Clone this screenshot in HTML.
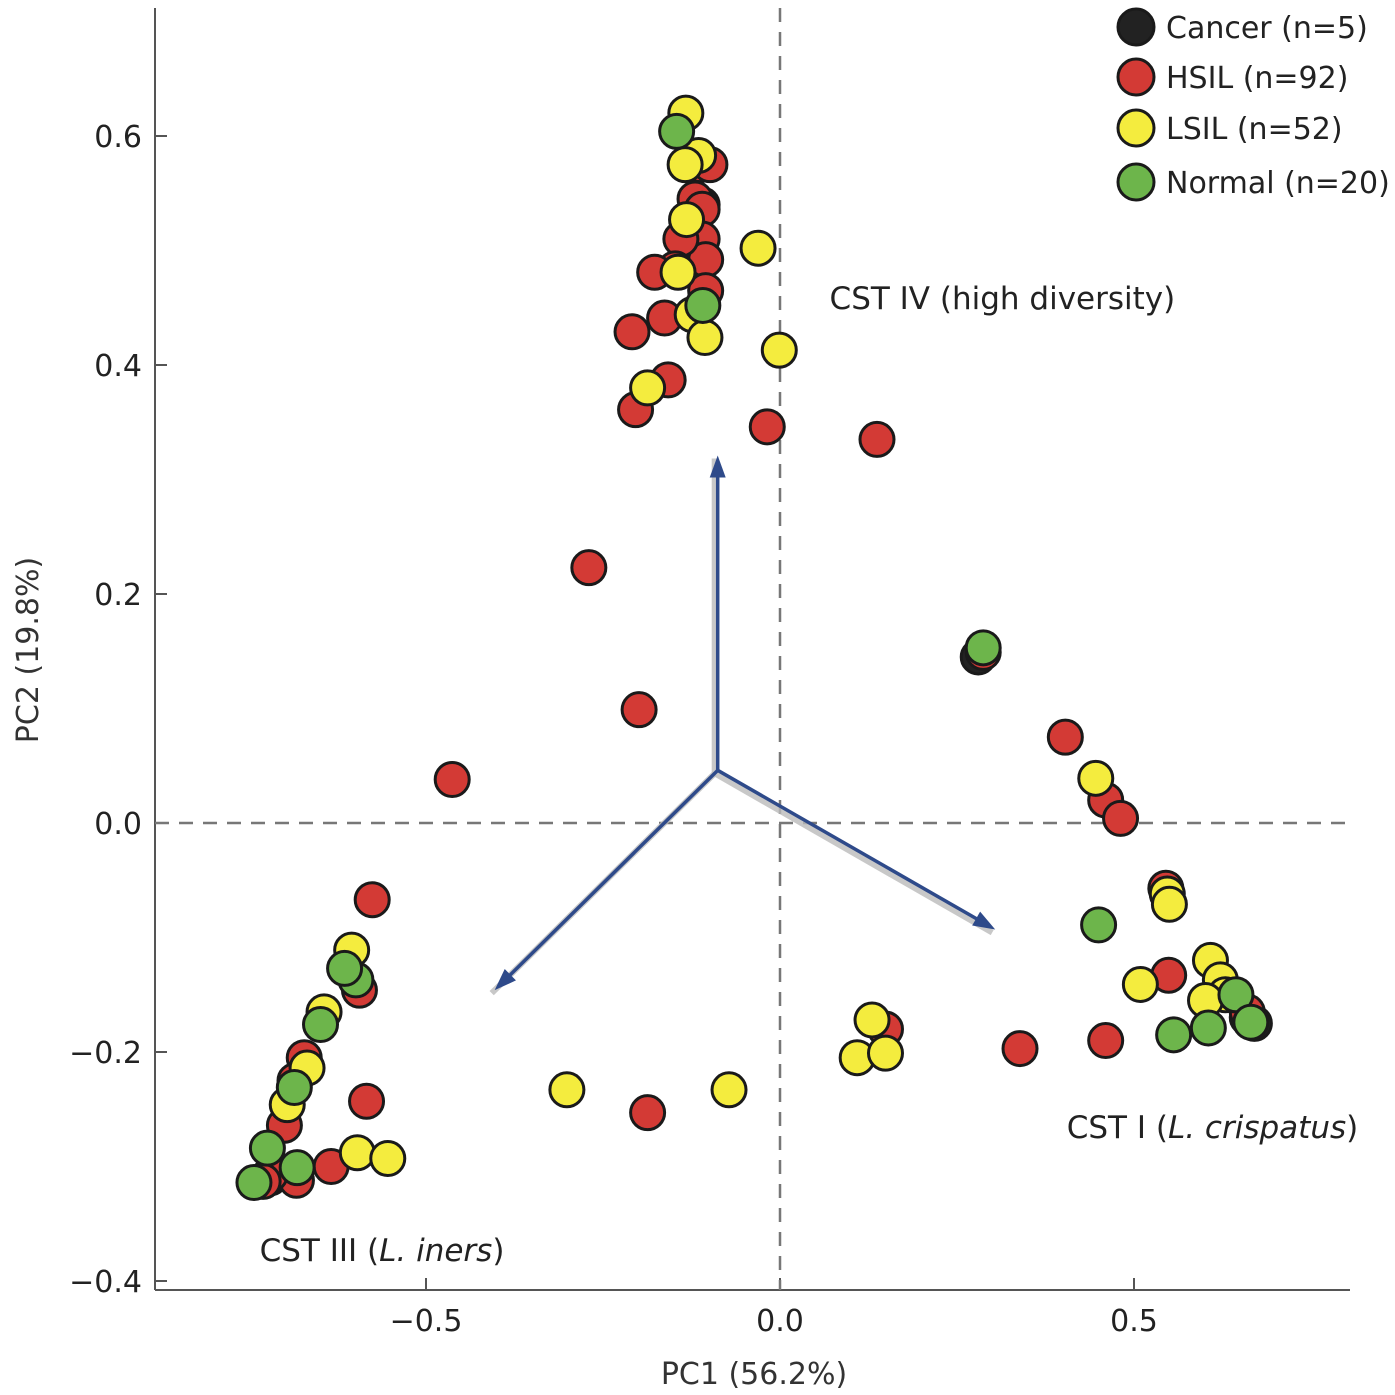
<!DOCTYPE html>
<html><head><meta charset="utf-8"><style>
html,body{margin:0;padding:0;background:#fff;}
svg{display:block;font-family:"DejaVu Sans","Liberation Sans",sans-serif;}
</style></head><body>
<svg id="chart" width="1395" height="1395" viewBox="0 0 1395 1395" xmlns="http://www.w3.org/2000/svg"></svg>
<script>
// ---- data ----
const xTicks = [-0.5, 0.0, 0.5];
const xTickLabels = ["\u22120.5", "0.0", "0.5"];
const yTicks = [0.6, 0.4, 0.2, 0.0, -0.2, -0.4];
const yTickLabels = ["0.6", "0.4", "0.2", "0.0", "\u22120.2", "\u22120.4"];
const groupNames = ["Cancer (n=5)", "HSIL (n=92)", "LSIL (n=52)", "Normal (n=20)"];
const cancerX = [0.67, 0.66, -0.72, -0.11, 0.28];
const cancerY = [-0.175, -0.17, -0.31, 0.54, 0.145];
const hsilX = [-0.113,-0.099,-0.12,-0.11,-0.125,-0.11,-0.105,-0.14,-0.148,-0.105,-0.177,-0.163,-0.209,-0.158,-0.204,-0.018,0.137,-0.270,-0.199,-0.463,0.287,0.403,0.460,0.481,0.545,0.549,0.460,0.339,0.149,-0.187,-0.576,-0.594,-0.672,-0.685,-0.700,-0.584,-0.634,-0.683,-0.72,-0.73,0.66,0.64];
const hsilY = [0.575,0.575,0.545,0.536,0.515,0.510,0.492,0.510,0.484,0.465,0.481,0.441,0.429,0.387,0.361,0.346,0.335,0.223,0.099,0.038,0.149,0.075,0.020,0.004,-0.057,-0.133,-0.190,-0.197,-0.180,-0.253,-0.067,-0.146,-0.205,-0.225,-0.264,-0.243,-0.300,-0.312,-0.307,-0.313,-0.165,-0.150];
const lsilX = [-0.133,-0.115,-0.134,-0.132,-0.031,-0.144,-0.124,-0.106,-0.001,-0.187,0.446,0.547,0.550,0.509,0.608,0.622,0.629,0.601,0.130,0.109,0.149,-0.301,-0.072,-0.605,-0.644,-0.668,-0.696,-0.597,-0.554];
const lsilY = [0.620,0.583,0.575,0.527,0.502,0.481,0.444,0.424,0.413,0.380,0.039,-0.062,-0.071,-0.141,-0.120,-0.137,-0.150,-0.155,-0.172,-0.205,-0.201,-0.233,-0.233,-0.111,-0.165,-0.214,-0.246,-0.288,-0.293];
const normalX = [-0.146,-0.109,0.287,0.450,0.644,0.665,0.605,0.556,-0.599,-0.615,-0.649,-0.686,-0.724,-0.682,-0.743];
const normalY = [0.604,0.452,0.153,-0.089,-0.150,-0.174,-0.179,-0.185,-0.137,-0.127,-0.176,-0.231,-0.284,-0.301,-0.314];
const arrowOrigin = [-0.088, 0.046];
const arrowTipX = [-0.088, 0.304, -0.403];
const arrowTipY = [0.321, -0.093, -0.146];
const annotations = [
  {x: 0.07, y: 0.449, parts: [["CST IV (high diversity)", false]]},
  {x: 0.405, y: -0.275, parts: [["CST I (", false], ["L. crispatus", true], [")", false]]},
  {x: -0.735, y: -0.3825, parts: [["CST III (", false], ["L. iners", true], [")", false]]}
];
// ---- scales ----
const X = v => 780 + v * 708;
const Y = v => 823 - v * 1145;
const NS = "http://www.w3.org/2000/svg";
const svg = document.getElementById("chart");
function mk(tag, attrs, parent) {
  const e = document.createElementNS(NS, tag);
  for (const k in attrs) e.setAttribute(k, attrs[k]);
  (parent || svg).appendChild(e);
  return e;
}
const ax = mk("g", {});


mk("line", {x1:155, y1:8, x2:155, y2:1290, stroke:"#555", "stroke-width":2}, ax);
mk("line", {x1:155, y1:1290, x2:1350, y2:1290, stroke:"#555", "stroke-width":2}, ax);
xTicks.forEach((t, i) => {
  mk("line", {x1:X(t), y1:1278, x2:X(t), y2:1290, stroke:"#555", "stroke-width":2}, ax);
  const tx = mk("text", {x:X(t), y:1331, "text-anchor":"middle", "font-size":30, fill:"#222"}, ax);
  tx.textContent = xTickLabels[i];
  
  
});
yTicks.forEach((t, i) => {
  mk("line", {x1:155, y1:Y(t), x2:167, y2:Y(t), stroke:"#555", "stroke-width":2}, ax);
  const tx = mk("text", {x:142, y:Y(t)+11, "text-anchor":"end", "font-size":30, fill:"#222"}, ax);
  tx.textContent = yTickLabels[i];
  
  
});
const xl = mk("text", {x:754, y:1384, "text-anchor":"middle", "font-size":30, fill:"#333"});
xl.textContent = "PC1 (56.2%)";


const yl = mk("text", {x:0, y:0, "text-anchor":"middle", "font-size":30, fill:"#333", transform:"translate(38,650) rotate(-90)"});
yl.textContent = "PC2 (19.8%)";


const z1 = mk("line", {x1:X(0), y1:8, x2:X(0), y2:1290, stroke:"#777", "stroke-width":2.5, "stroke-dasharray":"14,10"});


const z2 = mk("line", {x1:155, y1:Y(0), x2:1350, y2:Y(0), stroke:"#777", "stroke-width":2.5, "stroke-dasharray":"14,10"});


const ag = mk("g", {});


arrowTipX.forEach((tx, i) => {
  const x0 = X(arrowOrigin[0]), y0 = Y(arrowOrigin[1]), x1 = X(tx), y1 = Y(arrowTipY[i]);
  const ang = Math.atan2(y1 - y0, x1 - x0);
  mk("line", {x1:x0-3, y1:y0+3, x2:x1-3, y2:y1+3, stroke:"#bbb", "stroke-width":6, opacity:0.8}, ag);
  mk("line", {x1:x0, y1:y0, x2:x1 - 12*Math.cos(ang), y2:y1 - 12*Math.sin(ang), stroke:"#2e4a8a", "stroke-width":3.5}, ag);
  const L = 22, W = 8;
  const bx = x1 - L*Math.cos(ang), by = y1 - L*Math.sin(ang);
  const p = `${x1},${y1} ${bx - W*Math.sin(ang)},${by + W*Math.cos(ang)} ${bx + W*Math.sin(ang)},${by - W*Math.cos(ang)}`;
  const h = mk("polygon", {points:p, fill:"#2e4a8a"}, ag);
  
  
});
const colors = ["#222222", "#d33a35", "#f4ec3e", "#6db54b"];
const series = [[cancerX, cancerY], [hsilX, hsilY], [lsilX, lsilY], [normalX, normalY]];
series.forEach((s, gi) => {
  const g = mk("g", {});
  
  
  s[0].forEach((v, i) => {
    const c = mk("circle", {cx:X(v), cy:Y(s[1][i]), r:17, fill:colors[gi], stroke:"#1a1a1a", "stroke-width":3}, g);
    
    
  });
});
annotations.forEach(a => {
  const t = mk("text", {x:X(a.x), y:Y(a.y), "font-size":31, fill:"#222"});
  
  
  a.parts.forEach(p => {
    const ts = mk("tspan", p[1] ? {"font-style":"italic"} : {}, t);
    ts.textContent = p[0];
  });
});
const lg = mk("g", {});


const legY = [27, 77, 128, 182];
groupNames.forEach((n, i) => {
  const e = mk("g", {}, lg);
  
  
  mk("circle", {cx:1136, cy:legY[i], r:18, fill:colors[i], stroke:"#1a1a1a", "stroke-width":3}, e);
  const t = mk("text", {x:1166, y:legY[i]+11, "font-size":30, fill:"#222"}, e);
  t.textContent = n;
});
</script>
</body></html>
